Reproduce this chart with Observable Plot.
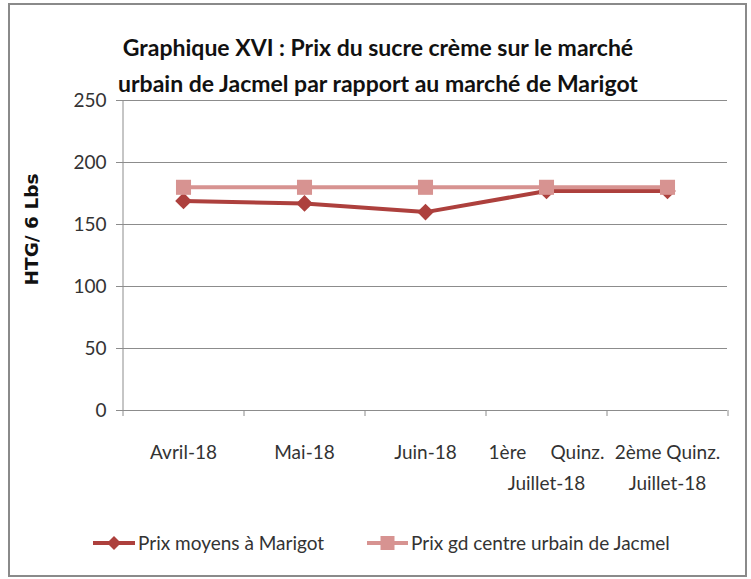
<!DOCTYPE html>
<html><head><meta charset="utf-8">
<script src="https://cdn.jsdelivr.net/npm/d3@7"></script>
<script src="https://cdn.jsdelivr.net/npm/@observablehq/plot@0.6"></script>
<style>
body{margin:0;background:#fff;}
#wrap{position:relative;width:751px;height:579px;overflow:hidden;font-family:Lato,sans-serif;}
#frame{position:absolute;left:8px;top:3px;width:735px;height:570px;border:2px solid #8a8a8a;}
#title{position:absolute;left:0;width:756px;top:29px;text-align:center;font-weight:bold;font-size:23px;line-height:36px;color:#111;}
#chart{position:absolute;left:0;top:0;}
#legend{position:absolute;left:0;top:528px;width:751px;height:30px;}
</style></head>
<body><div id="wrap"><div id="frame"></div><div id="chart"></div>
<div id="title">Graphique XVI : Prix du sucre crème sur le marché<br>urbain de Jacmel par rapport au marché de Marigot</div>
<div id="legend"></div></div>
<script>
const categories = ["Avril-18","Mai-18","Juin-18","1ère Quinz. Juillet-18","2ème Quinz. Juillet-18"];
const tickLabels = ["Avril-18","Mai-18","Juin-18","1ère\u00a0\u00a0\u00a0\u00a0\u00a0Quinz.\nJuillet-18","2ème Quinz.\nJuillet-18"];
const marigot = [169, 167, 160, 177, 177];
const jacmel = [180, 180, 180, 180, 180];
const yTicks = [0, 50, 100, 150, 200, 250];
const seriesNames = ["Prix moyens à Marigot", "Prix gd centre urbain de Jacmel"];
const colors = ["#ad403d", "#d79391"];
const yLabel = "HTG/ 6 Lbs";

const rows = [];
categories.forEach((c,i)=>{ rows.push({cat:c, v:marigot[i], s:seriesNames[0]}); rows.push({cat:c, v:jacmel[i], s:seriesNames[1]}); });
const W = 751, H = 520, ml = 122, mr = 24;
const step = (W - ml - mr) / categories.length;
const font = 'Lato,sans-serif';
const fmt = c => tickLabels[categories.indexOf(c)];

const chart = Plot.plot({
  width: W, height: H, marginLeft: ml, marginRight: mr, marginTop: 100, marginBottom: 110,
  style: {fontFamily: font, fontSize: "18px", color: "#333", background: "transparent"},
  x: {type: "point", domain: categories, padding: 0.5},
  y: {domain: [0, 250], ticks: yTicks},
  color: {domain: seriesNames, range: colors},
  marks: [
    Plot.gridY(yTicks, {stroke: "#8c8c8c", strokeOpacity: 1}),
    Plot.axisY(yTicks, {tickSize: 6, tickPadding: 10, stroke: "#8c8c8c", fill: "#333", fontSize: 19, label: null}),
    Plot.ruleX([categories[0]], {y1: 0, y2: 250, dx: -step/2, stroke: "#8c8c8c"}),
    Plot.ruleY([0], {stroke: "#8c8c8c"}),
    Plot.axisX({tickSize: 6, text: null, dx: -step/2, stroke: "#8c8c8c", label: null}),
    Plot.axisX([categories[categories.length-1]], {tickSize: 6, text: null, dx: step/2, stroke: "#8c8c8c", label: null}),
    Plot.axisX({tickSize: 0, tickPadding: 26, tickFormat: fmt, fill: "#333", fontSize: 19, lineHeight: 1.65, label: null}),
    Plot.line(rows.filter(d=>d.s===seriesNames[0]), {x: "cat", y: "v", stroke: colors[0], strokeWidth: 4}),
    Plot.dot(rows.filter(d=>d.s===seriesNames[0]), {x: "cat", y: "v", symbol: "diamond2", r: 7.5, fill: colors[0], stroke: "none"}),
    Plot.line(rows.filter(d=>d.s===seriesNames[1]), {x: "cat", y: "v", stroke: colors[1], strokeWidth: 4}),
    Plot.dot(rows.filter(d=>d.s===seriesNames[1]), {x: "cat", y: "v", symbol: "square", r: 8.5, fill: colors[1], stroke: "none"}),
    Plot.text([yLabel], {frameAnchor: "left", textAnchor: "middle", rotate: -90, dx: -90, dy: -26, fontWeight: "bold", fontSize: 18.5, fontFamily: "DejaVu Sans, sans-serif", fill: "#111"})
  ]
});
document.getElementById("chart").appendChild(chart);

// legend
const lg = d3.select("#legend").append("svg").attr("width", 751).attr("height", 30);
const items = [{x: 93, w: 42, sym: "diamond"}, {x: 367, w: 41, sym: "square"}];
seriesNames.forEach((n,i)=>{
  const it = items[i];
  const g = lg.append("g");
  g.append("line").attr("x1", it.x).attr("x2", it.x+it.w).attr("y1", 15).attr("y2", 15).attr("stroke", colors[i]).attr("stroke-width", 4);
  const cx = it.x + it.w/2;
  if (it.sym === "diamond") g.append("path").attr("d", `M${cx},${15-7}L${cx+7},15L${cx},${15+7}L${cx-7},15Z`).attr("fill", colors[i]);
  else g.append("rect").attr("x", cx-7).attr("y", 8).attr("width", 14).attr("height", 14).attr("fill", colors[i]);
  g.append("text").attr("x", it.x+it.w+3).attr("y", 15).attr("dy", "0.35em").attr("font-size", 19).attr("font-family", font).attr("fill", "#333").text(n);
});
</script></body></html>
